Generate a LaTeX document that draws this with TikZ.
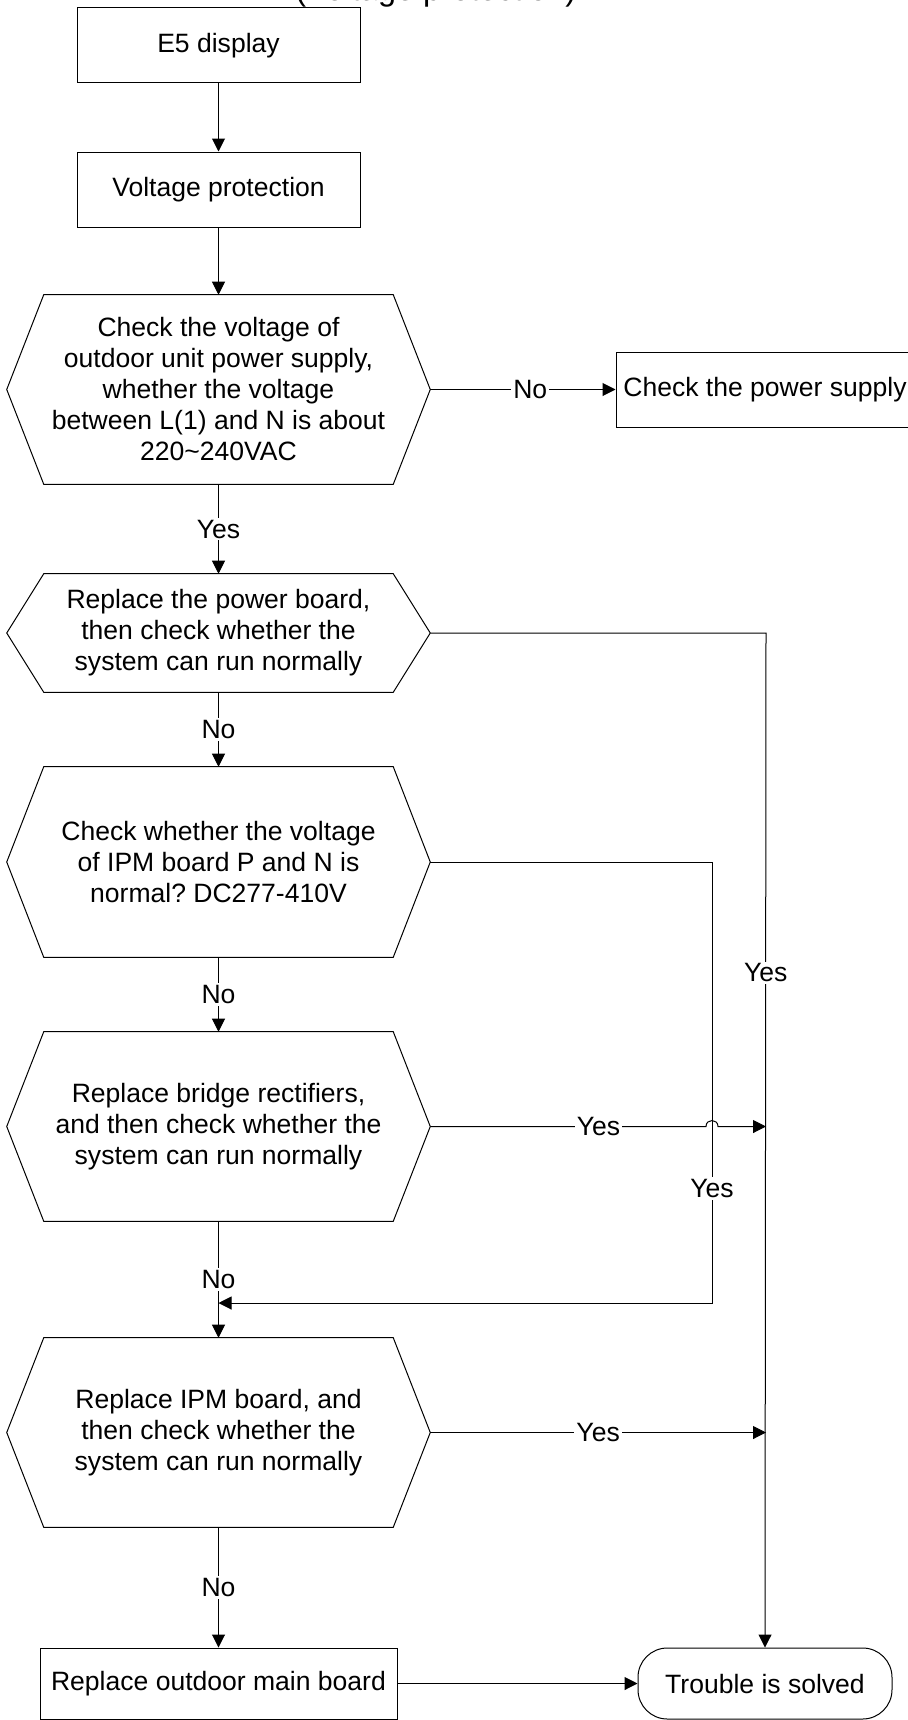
\documentclass[tikz,border=0pt]{standalone}
\usepackage{fontspec}
\setmainfont{Liberation Sans}
\usetikzlibrary{arrows.meta}
\frenchspacing
\tikzset{
  txt/.style={font=\fontsize{19.9pt}{23.25pt}\selectfont, align=center, inner sep=0pt},
  rectbox/.style={txt, draw=black, line width=0.75pt, rectangle},
  hexbox/.style={txt, rectangle, minimum width=317.25pt},
  stadium/.style={txt, draw=black, line width=0.75pt, rectangle, rounded corners=22pt},
  conn/.style={draw=black, line width=0.75pt, -{Triangle[length=9.75pt,width=9.75pt]}},
  plainline/.style={draw=black, line width=0.75pt},
  lbl/.style={txt, fill=white, inner sep=1.5pt},
}
\newcommand\hexoutline[1]{%
  \draw[plainline] (#1.west) -- ([xshift=27.75pt]#1.north west) -- ([xshift=-27.75pt]#1.north east)
    -- (#1.east) -- ([xshift=-27.75pt]#1.south east) -- ([xshift=27.75pt]#1.south west) -- cycle;}
\begin{document}
\begin{tikzpicture}[x=0.75pt, y=-0.75pt]
\useasboundingbox (0,0) rectangle (907,1720);
\fill[white] (0,0) rectangle (907,1720);

% partially visible title (cut off by the top edge)
\node[font=\fontsize{24.3pt}{29pt}\selectfont\frenchspacing, anchor=base west, inner sep=0pt] (title) at (295,0.5) {(Voltage protection)};

% boxes
\node[rectbox, minimum width=212.25pt, minimum height=56.25pt] (e5) at (218.5,45.5) {E5 display};
\node[rectbox, minimum width=212.25pt, minimum height=56.25pt] (vp) at (218.5,189.5) {Voltage protection};

\node[hexbox, minimum height=141.75pt] (h1) at (218.5,389.5)
  {Check the voltage of\\outdoor unit power supply,\\whether the voltage\\between L(1) and N is about\\220\char"007E 240VAC};
\hexoutline{h1}

\node[rectbox, minimum width=223.5pt, minimum height=56.25pt] (ps) at (765,389.5) {Check the power supply};

\node[hexbox, minimum height=88.5pt] (h2) at (218.5,633)
  {Replace the power board,\\then check whether the\\system can run normally};
\hexoutline{h2}

\node[hexbox, minimum height=142.5pt] (h3) at (218.5,862)
  {Check whether the voltage\\of IPM board P and N is\\normal? DC277-410V};
\hexoutline{h3}

\node[hexbox, minimum height=141.75pt] (h4) at (218.5,1126.5)
  {Replace bridge rectifiers,\\and then check whether the\\system can run normally};
\hexoutline{h4}

\node[hexbox, minimum height=141.75pt] (h5) at (218.5,1432.5)
  {Replace IPM board, and\\then check whether the\\system can run normally};
\hexoutline{h5}

\node[rectbox, minimum width=267.75pt, minimum height=53.25pt] (mb) at (218.5,1683.5) {Replace outdoor main board};
\node[stadium, minimum width=190.5pt, minimum height=53.25pt] (ts) at (765,1683.5) {Trouble is solved};

% helper coordinates
\coordinate (c2) at (766,633);
\coordinate (c3) at (712,862);
\coordinate (j3) at (712,1303);
\coordinate (m) at (218.5,1303);
\coordinate (hopL) at (706,1126.5);
\coordinate (hopR) at (718,1126.5);
\coordinate (rv4) at (766,1126.5);
\coordinate (rv5) at (766,1432.5);

% connectors
\draw[conn] (e5) -- (vp);
\draw[conn] (vp) -- (h1);
\draw[conn] (h1.east) -- node[lbl, pos=0.54]{No} (ps.west);
\draw[conn] (h1) -- node[lbl]{Yes} (h2);
\draw[conn] (h2) -- node[lbl]{No} (h3);
\draw[conn] (h3) -- node[lbl]{No} (h4);
\draw[conn] (h4) -- node[lbl]{No} (h5);
\draw[conn] (h5) -- node[lbl]{No} (mb);
\draw[conn] (mb) -- (ts);
\draw[conn] (h2.east) -- (c2) -- node[lbl, pos=0.335]{Yes} (ts.north);
\draw[conn] (h3.east) -- (c3) -- node[lbl, pos=0.74]{Yes} (j3) -- (m);
\draw[conn] (h4.east) -- node[lbl, pos=0.61]{Yes} (hopL) .. controls (706,1118.5) and (718,1118.5) .. (hopR) -- (rv4);
\draw[conn] (h5.east) -- node[lbl, pos=0.5]{Yes} (rv5);
\end{tikzpicture}
\end{document}
